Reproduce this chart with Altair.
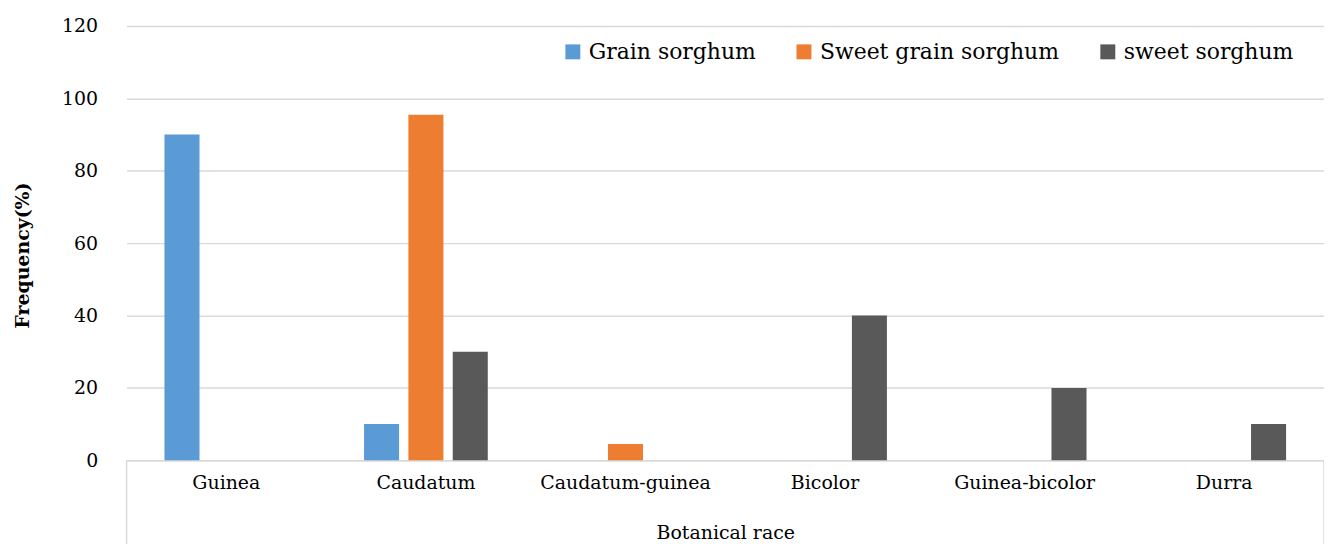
import altair as alt
import pandas as pd

categories = ["Guinea", "Caudatum", "Caudatum-guinea", "Bicolor", "Guinea-bicolor", "Durra"]
series = ["Grain sorghum", "Sweet grain sorghum", "sweet sorghum"]
grain_sorghum = [90, 10, 0, 0, 0, 0]
sweet_grain_sorghum = [0, 95.5, 4.5, 0, 0, 0]
sweet_sorghum = [0, 30, 0, 40, 20, 10]
colors = ["#5B9BD5", "#ED7D31", "#595959"]
y_ticks = [0, 20, 40, 60, 80, 100, 120]

rows = []
for name, vals in zip(series, [grain_sorghum, sweet_grain_sorghum, sweet_sorghum]):
    for cat, v in zip(categories, vals):
        if v > 0:
            rows.append({"race": cat, "series": name, "value": v})
df = pd.DataFrame(rows)

W, H = 1202, 436
FONT = "DejaVu Serif"

bars = alt.Chart(df).mark_bar().encode(
    x=alt.X(
        "race:N",
        sort=categories,
        scale=alt.Scale(domain=categories, paddingInner=0.38, paddingOuter=0.19),
        axis=alt.Axis(
            title="Botanical race",
            labelAngle=0,
            ticks=False,
            domainColor="#d9d9d9",
            domainWidth=1.5,
            labelFont=FONT,
            labelFontSize=19,
            labelColor="#000000",
            labelPadding=22,
            labelBaseline="middle",
            labelLimit=0,
            titleFont=FONT,
            titleFontSize=19,
            titleFontWeight="normal",
            titleColor="#000000",
            titleY=72,
            titleBaseline="middle",
        ),
    ),
    xOffset=alt.XOffset(
        "series:N",
        sort=series,
        scale=alt.Scale(domain=series, paddingInner=0.21, paddingOuter=0),
    ),
    y=alt.Y(
        "value:Q",
        scale=alt.Scale(domain=[0, 120], nice=False),
        axis=alt.Axis(
            title="Frequency(%)",
            values=y_ticks,
            ticks=False,
            domain=False,
            gridColor="#d9d9d9",
            gridWidth=1.5,
            labelFont=FONT,
            labelFontSize=19,
            labelColor="#000000",
            labelPadding=29,
            titleFont=FONT,
            titleFontSize=19,
            titleFontWeight="bold",
            titleColor="#000000",
            titleAngle=270,
            titleX=-104,
            titleY=230,
            titleAlign="center",
            titleBaseline="middle",
        ),
    ),
    color=alt.Color(
        "series:N",
        sort=series,
        scale=alt.Scale(domain=series, range=colors),
        legend=alt.Legend(
            title=None,
            orient="none",
            direction="horizontal",
            legendX=437,
            legendY=15,
            symbolType="square",
            symbolSize=225,
            symbolStrokeWidth=0,
            labelFont=FONT,
            labelFontSize=22,
            labelColor="#000000",
            labelOffset=5,
            labelLimit=0,
            columnPadding=37,
        ),
    ),
)

edges = pd.DataFrame({"edge": ["left", "right"], "px": [0, W]})
box = alt.Chart(edges).mark_rule(color="#d9d9d9", strokeWidth=1.5).encode(
    x=alt.X("px:Q", scale=None),
    y=alt.value(H),
    y2=alt.value(H + 90),
)

chart = alt.layer(box, bars).properties(
    width=W,
    height=H,
    padding={"left": 119, "top": 17, "right": 0, "bottom": 83},
    autosize=alt.AutoSizeParams(type="none"),
).configure_view(stroke=None)

chart.save("out.html", embed_options={"renderer": "svg", "actions": False})
